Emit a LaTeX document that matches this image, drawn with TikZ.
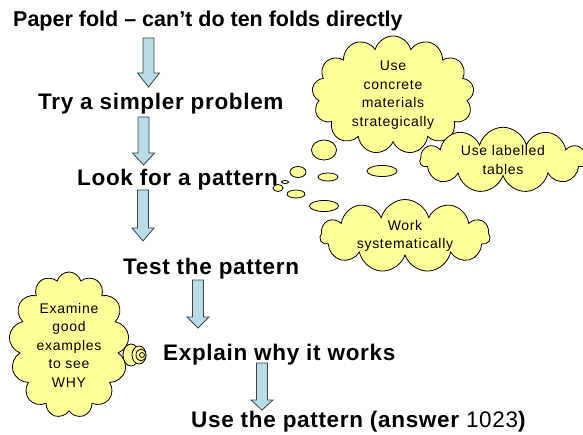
\documentclass[tikz,border=0pt]{standalone}
\usepackage{fontspec}
\setmainfont{Liberation Sans}
\newfontfamily\headfont[LetterSpace=3]{Liberation Sans}
\newfontfamily\cloudfont[LetterSpace=5]{Liberation Sans}
\usetikzlibrary{shapes.symbols,shapes.geometric}

\definecolor{thoughtyellow}{RGB}{255,255,153}
\definecolor{arrowblue}{RGB}{183,221,232}

\tikzset{
  step line/.style={anchor=base west, inner sep=0pt, font=\headfont\bfseries\fontsize{22.5}{24}\selectfont},
  thought/.style={cloud, draw=black, fill=thoughtyellow, line width=0.8pt, align=center,
    inner sep=0pt, font=\cloudfont\fontsize{14}{18.5}\selectfont},
  bubble/.style={ellipse, draw=black, fill=thoughtyellow, line width=0.8pt, inner sep=0pt},
  arrowbox/.style={draw=black!75, fill=arrowblue, line width=0.8pt}
}

% block arrow: centre x, top y, head start y, tip y
\newcommand{\blockdown}[4]{%
  \draw[arrowbox] ({#1-5.5},#2) -- ({#1+5.5},#2) -- ({#1+5.5},#3) -- ({#1+11},#3)
    -- (#1,#4) -- ({#1-11},#3) -- ({#1-5.5},#3) -- cycle;}

\begin{document}
\begin{tikzpicture}[x=1pt, y=-1pt]
  \useasboundingbox (0,0) rectangle (583,435);

  % steps
  \node[anchor=base west, inner sep=0pt, font=\bfseries\fontsize{21.5}{24}\selectfont] (fold) at (13,27) {Paper fold -- can't do ten folds directly};
  \node[step line] (simpler) at (38,110) {Try a simpler problem};
  \node[step line] (look) at (77,186) {Look for a pattern};
  \node[step line] (test) at (123,275) {Test the pattern};
  \node[step line] (explain) at (163,360) {Explain why it works};
  \node[step line] (use) at (191,427) {Use the pattern (answer {\mdseries 1023})};

  \blockdown{148.5}{38}{73}{87}
  \blockdown{143.5}{117}{153}{165}
  \blockdown{143}{190}{228}{241}
  \blockdown{198}{280}{317}{328}
  \blockdown{262}{363}{400}{410}

  % thought clouds
  \node[thought, cloud puffs=13, aspect=1.4, minimum width=162, minimum height=116] (concrete) at (393,95)
    {Use\\concrete\\materials\\strategically};
  \node[thought, cloud puffs=11, aspect=3, minimum width=166, minimum height=55] (tables) at (503,160)
    {Use labelled\\tables};
  \node[thought, cloud puffs=11, aspect=3, minimum width=170, minimum height=54] (work) at (405,236)
    {Work\\systematically};
  \node[thought, cloud puffs=13, aspect=0.85, minimum width=120, minimum height=146] (examine) at (69,345)
    {Examine\\good\\examples\\to see\\WHY};

  % bubbles from the pattern
  \node[bubble, minimum width=10, minimum height=7] (b0) at (278,188) {};
  \node[bubble, minimum width=7, minimum height=3] (b00) at (285,182) {};
  \node[bubble, minimum width=18, minimum height=8] (b1) at (296,194) {};
  \node[bubble, minimum width=16, minimum height=11] (b2) at (298,172) {};
  \node[bubble, minimum width=20, minimum height=8] (b3) at (328,177) {};
  \node[bubble, minimum width=29, minimum height=11] (b4) at (324,206) {};
  \node[bubble, minimum width=25, minimum height=20] (b5) at (324,150) {};
  \node[bubble, minimum width=30, minimum height=11] (b6) at (382,171) {};

  % bubbles beside examine
  \node[bubble, minimum width=16, minimum height=22] (e1) at (131,355) {};
  \node[bubble, minimum width=14, minimum height=18] (e2) at (139,355) {};
  \node[bubble, minimum width=10, minimum height=12] (e3) at (141,355) {};
  \node[bubble, minimum width=5, minimum height=5] (e4) at (142,355) {};
\end{tikzpicture}
\end{document}
